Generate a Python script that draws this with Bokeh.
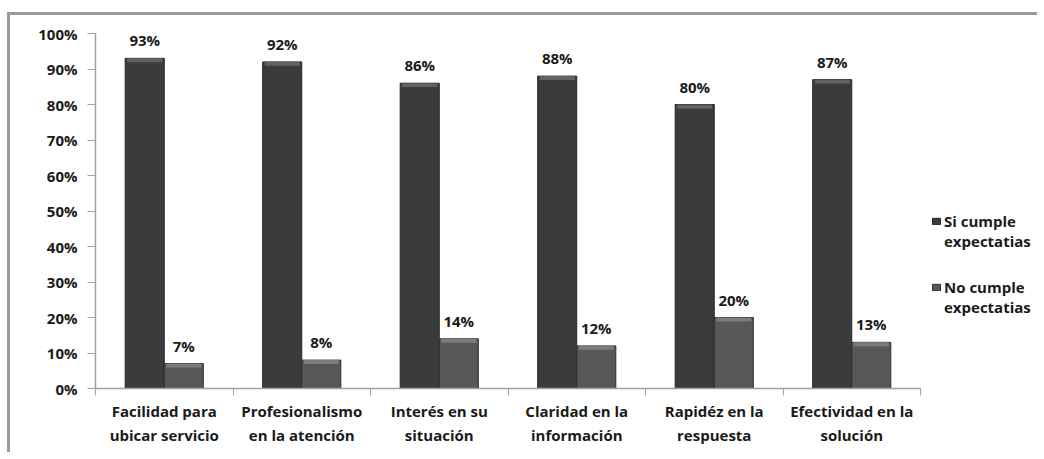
from bokeh.plotting import figure
from bokeh.models import (ColumnDataSource, FixedTicker, NumeralTickFormatter,
                          Legend, LegendItem, Range1d)
from bokeh.core.properties import value
from bokeh.embed import file_html
from bokeh.resources import INLINE

categories = ["Facilidad para\nubicar servicio", "Profesionalismo\nen la atención",
              "Interés en su\nsituación", "Claridad en la\ninformación",
              "Rapidéz en la\nrespuesta", "Efectividad en la\nsolución"]
si_cumple = [0.93, 0.92, 0.86, 0.88, 0.80, 0.87]
no_cumple = [0.07, 0.08, 0.14, 0.12, 0.20, 0.13]
series_si = ["Si cumple", "expectatias"]
series_no = ["No cumple", "expectatias"]
y_ticks = [0.0, 0.1, 0.2, 0.3, 0.4, 0.5, 0.6, 0.7, 0.8, 0.9, 1.0]

FONT = "Open Sans"
BAR_W = 0.284
BEVEL = 0.011
n = len(categories)
centers = [i + 0.5 for i in range(n)]

W, H = 1030, 440
B_LEFT, B_TOP, B_RIGHT, B_BOTTOM = 85, 18, 0, 67
frame_w = W - B_LEFT - B_RIGHT
x_end = n * frame_w / 825.0   # the category axis covers 825 px of the frame

src_si = ColumnDataSource(dict(x=[c - BAR_W / 2 for c in centers], top=si_cumple,
                               bev=[v - BEVEL for v in si_cumple],
                               lab=[f"{round(v*100)}%" for v in si_cumple]))
src_no = ColumnDataSource(dict(x=[c + BAR_W / 2 for c in centers], top=no_cumple,
                               bev=[v - BEVEL for v in no_cumple],
                               lab=[f"{round(v*100)}%" for v in no_cumple]))

p = figure(width=W, height=H, output_backend="svg", toolbar_location=None,
           x_range=Range1d(0, x_end), y_range=Range1d(0, 1.0),
           min_border_left=B_LEFT, min_border_top=B_TOP, min_border_right=B_RIGHT,
           min_border_bottom=B_BOTTOM,
           styles={"border-top": "3px solid #9a9a9a", "border-left": "3px solid #9a9a9a",
                   "position": "relative", "top": "12px", "left": "7px"})
p.outline_line_color = None
p.grid.visible = False
p.background_fill_color = "white"
p.border_fill_color = "white"

r_si = p.vbar(x="x", top="top", width=BAR_W, source=src_si, fill_color="#3b3b3b",
              line_color="#262626", line_width=1)
r_no = p.vbar(x="x", top="top", width=BAR_W, source=src_no, fill_color="#585858",
              line_color="#2e2e2e", line_width=1)
# light bevel on the top of each bar
p.vbar(x="x", top="top", bottom="bev", width=BAR_W * 0.9, source=src_si,
       fill_color="#626262", line_color=None)
p.vbar(x="x", top="top", bottom="bev", width=BAR_W * 0.9, source=src_no,
       fill_color="#7c7c7c", line_color=None)
r_blank = p.vbar(x=[], top=[], width=0.1, fill_alpha=0, line_alpha=0)

for src in (src_si, src_no):
    p.text(x="x", y="top", text="lab", source=src, text_font=value(FONT),
           text_font_style="bold", text_font_size="15px", text_color="#1a1a1a",
           text_align="center", text_baseline="bottom", y_offset=-8)

# x axis
xa = p.xaxis[0]
xa.bounds = (0, n)
xa.ticker = FixedTicker(ticks=centers, minor_ticks=list(range(n + 1)))
xa.major_label_overrides = {c: lab for c, lab in zip(centers, categories)}
xa.major_tick_line_color = None
xa.minor_tick_line_color = "#a0a0a0"
xa.minor_tick_out = 7
xa.minor_tick_in = 0
xa.axis_line_color = "#a0a0a0"
xa.axis_line_width = 1.5
xa.major_label_text_font = FONT
xa.major_label_text_font_style = "bold"
xa.major_label_text_font_size = "15px"
xa.major_label_text_color = "#1a1a1a"
xa.major_label_standoff = 5

# y axis
ya = p.yaxis[0]
ya.ticker = FixedTicker(ticks=y_ticks, minor_ticks=[])
ya.formatter = NumeralTickFormatter(format="0%")
ya.major_tick_out = 8
ya.major_tick_in = 0
ya.major_tick_line_color = "#a0a0a0"
ya.axis_line_color = "#a0a0a0"
ya.axis_line_width = 1.5
ya.minor_tick_line_color = None
ya.major_label_text_font = FONT
ya.major_label_text_font_style = "bold"
ya.major_label_text_font_size = "15px"
ya.major_label_text_color = "#1a1a1a"
ya.major_label_standoff = 10


def make_legend(lines, renderer, loc):
    lg = Legend(items=[LegendItem(label=lines[0], renderers=[renderer]),
                       LegendItem(label=lines[1], renderers=[r_blank])],
                location=loc, orientation="vertical")
    lg.label_text_font = FONT
    lg.label_text_font_style = "bold"
    lg.label_text_font_size = "15px"
    lg.label_text_color = "#1a1a1a"
    lg.label_height = 15
    lg.glyph_width = 10
    lg.glyph_height = 8
    lg.spacing = 0
    lg.padding = 0
    lg.margin = 0
    lg.label_standoff = 3
    lg.border_line_color = None
    lg.background_fill_alpha = 0
    return lg


p.add_layout(make_legend(series_si, r_si, (836, 137)), "center")
p.add_layout(make_legend(series_no, r_no, (836, 71)), "center")

open("out.html", "w").write(file_html(p, INLINE))
